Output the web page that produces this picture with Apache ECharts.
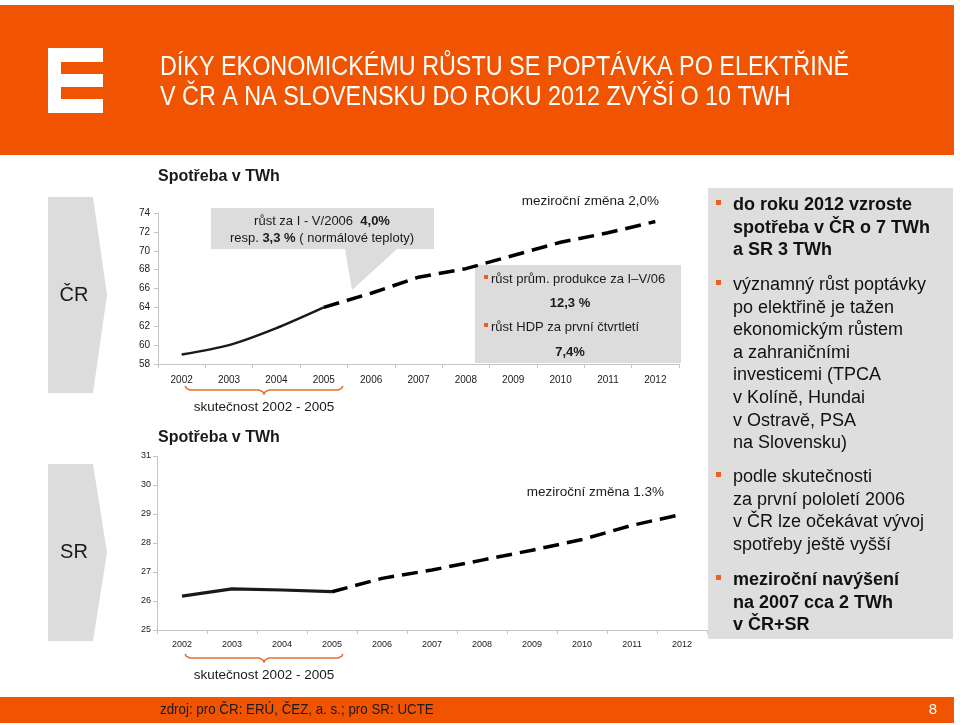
<!DOCTYPE html>
<html>
<head>
<meta charset="utf-8">
<script src="https://cdn.jsdelivr.net/npm/echarts@6/dist/echarts.min.js"></script>
<style>
html,body{margin:0;padding:0;background:#fff;}
#chart{width:960px;height:725px;}
</style>
</head>
<body>
<div id="chart"></div>
<script>
// ---- data ----
const years = ['2002','2003','2004','2005','2006','2007','2008','2009','2010','2011','2012'];
const crActual   = [59.0, 60.0, 61.8, 64.0, null, null, null, null, null, null, null];
const crForecast = [null, null, null, 64.0, 65.5, 67.2, 68.1, 69.5, 70.9, 71.9, 73.1];
const srActual   = [26.17, 26.42, 26.38, 26.32, null, null, null, null, null, null, null];
const srForecast = [null, null, null, 26.32, 26.78, 27.07, 27.41, 27.75, 28.12, 28.61, 28.99];
const crAxis = {min: 58, max: 74, interval: 2};
const srAxis = {min: 25, max: 31, interval: 1};

const titleLines = ['DÍKY EKONOMICKÉMU RŮSTU SE POPTÁVKA PO ELEKTŘINĚ', 'V ČR A NA SLOVENSKU DO ROKU 2012 ZVÝŠÍ O 10 TWH'];
const bulletBlocks = [
  {bold: true,  lines: ['do roku 2012 vzroste', 'spotřeba v ČR o 7 TWh', 'a SR 3 TWh']},
  {bold: false, lines: ['významný růst poptávky', 'po elektřině je tažen', 'ekonomickým růstem', 'a zahraničními', 'investicemi (TPCA', 'v Kolíně, Hundai', 'v Ostravě, PSA', 'na Slovensku)']},
  {bold: false, lines: ['podle skutečnosti', 'za první pololetí 2006', 'v ČR lze očekávat vývoj', 'spotřeby ještě vyšší']},
  {bold: true,  lines: ['meziroční navýšení', 'na 2007 cca 2 TWh', 'v ČR+SR']}
];

const ORANGE = '#f05400';
const GRAY = '#dcdcdc';
const AX = '#c4c4c4';
const SANS = 'Liberation Sans, Arial, sans-serif';

const chart = echarts.init(document.getElementById('chart'), null, {renderer: 'canvas'});

function xAx(gi, fs, margin) {
  return {
    type: 'category', gridIndex: gi, data: years, boundaryGap: true,
    axisLine: {lineStyle: {color: AX, width: 1}},
    axisTick: {show: true, length: 4, lineStyle: {color: AX}},
    axisLabel: {color: '#1a1a1a', fontSize: fs, fontFamily: SANS, margin: margin}
  };
}
function yAx(gi, cfg, fs, margin) {
  return {
    type: 'value', gridIndex: gi, min: cfg.min, max: cfg.max, interval: cfg.interval,
    axisLine: {show: true, lineStyle: {color: AX, width: 1}},
    axisTick: {show: true, length: 4, lineStyle: {color: AX}},
    splitLine: {show: false},
    axisLabel: {color: '#1a1a1a', fontSize: fs, fontFamily: SANS, margin: margin}
  };
}

// graphics
const g = [];
// header
g.push({type: 'rect', shape: {x: 0, y: 5, width: 954, height: 150}, style: {fill: ORANGE}, z: 0});
// logo
g.push({type: 'rect', shape: {x: 48, y: 48, width: 55, height: 65}, style: {fill: '#fff'}, z: 1});
g.push({type: 'rect', shape: {x: 61, y: 62, width: 42, height: 12}, style: {fill: ORANGE}, z: 2});
g.push({type: 'rect', shape: {x: 61, y: 87, width: 42, height: 12}, style: {fill: ORANGE}, z: 2});
titleLines.forEach((t, i) => {
  g.push({type: 'text', x: 160, y: 68 + i * 30, scaleX: 0.865, z: 3,
    style: {text: t, fill: '#fff', font: '27px ' + SANS, textVerticalAlign: 'middle', textAlign: 'left'}});
});
// footer
g.push({type: 'rect', shape: {x: 0, y: 697, width: 954, height: 26}, style: {fill: ORANGE}, z: 0});
g.push({type: 'text', x: 160, y: 710, scaleX: 0.89, z: 3,
  style: {text: 'zdroj: pro ČR: ERÚ, ČEZ, a. s.; pro SR: UCTE', fill: '#1a1a1a', font: '15px ' + SANS, textVerticalAlign: 'middle'}});
g.push({type: 'text', x: 937, y: 710, z: 3,
  style: {text: '8', fill: '#fff', font: '15px ' + SANS, textVerticalAlign: 'middle', textAlign: 'right'}});
// left arrows
function arrow(y0, y1, label) {
  const mid = (y0 + y1) / 2;
  g.push({type: 'polygon', shape: {points: [[48, y0], [93, y0], [107, mid], [93, y1], [48, y1]]}, style: {fill: GRAY}, z: 0});
  g.push({type: 'text', x: 74, y: mid, z: 2,
    style: {text: label, fill: '#1a1a1a', font: '20px ' + SANS, textAlign: 'center', textVerticalAlign: 'middle'}});
}
arrow(197, 393, 'ČR');
arrow(464, 641, 'SR');
// chart titles
g.push({type: 'text', x: 158, y: 177, z: 2, style: {text: 'Spotřeba v TWh', fill: '#1a1a1a', font: 'bold 16px ' + SANS, textVerticalAlign: 'middle'}});
g.push({type: 'text', x: 158, y: 438, z: 2, style: {text: 'Spotřeba v TWh', fill: '#1a1a1a', font: 'bold 16px ' + SANS, textVerticalAlign: 'middle'}});
// callout
g.push({type: 'polygon', shape: {points: [[211, 208], [434, 208], [434, 249], [397, 249], [352, 290], [345, 249], [211, 249]]}, style: {fill: GRAY}, z: 0});
g.push({type: 'text', x: 322, y: 221, z: 2, style: {
  text: '{n|růst za I - V/2006  }{b|4,0%}', textAlign: 'center', textVerticalAlign: 'middle',
  rich: {n: {font: '13px ' + SANS, fill: '#1a1a1a'}, b: {font: 'bold 13px ' + SANS, fill: '#1a1a1a'}}}});
g.push({type: 'text', x: 322, y: 238, z: 2, style: {
  text: '{n|resp. }{b|3,3 %}{n| ( normálové teploty)}', textAlign: 'center', textVerticalAlign: 'middle',
  rich: {n: {font: '13px ' + SANS, fill: '#1a1a1a'}, b: {font: 'bold 13px ' + SANS, fill: '#1a1a1a'}}}});
// meziroční labels
g.push({type: 'text', x: 659, y: 201, z: 2, style: {text: 'meziroční změna 2,0%', fill: '#1a1a1a', font: '13.5px ' + SANS, textAlign: 'right', textVerticalAlign: 'middle'}});
g.push({type: 'text', x: 664, y: 492, z: 2, style: {text: 'meziroční změna 1.3%', fill: '#1a1a1a', font: '13.5px ' + SANS, textAlign: 'right', textVerticalAlign: 'middle'}});
// indicators box
g.push({type: 'rect', shape: {x: 475, y: 265, width: 206, height: 98}, style: {fill: GRAY}, z: 0});
g.push({type: 'rect', shape: {x: 484, y: 275, width: 4, height: 4}, style: {fill: '#e8641e'}, z: 2});
g.push({type: 'text', x: 491, y: 279, z: 2, style: {text: 'růst prům. produkce za I–V/06', fill: '#1a1a1a', font: '13px ' + SANS, textVerticalAlign: 'middle'}});
g.push({type: 'text', x: 570, y: 303, z: 2, style: {text: '12,3 %', fill: '#1a1a1a', font: 'bold 13px ' + SANS, textAlign: 'center', textVerticalAlign: 'middle'}});
g.push({type: 'rect', shape: {x: 484, y: 323, width: 4, height: 4}, style: {fill: '#e8641e'}, z: 2});
g.push({type: 'text', x: 491, y: 327, z: 2, style: {text: 'růst HDP za první čtvrtletí', fill: '#1a1a1a', font: '13px ' + SANS, textVerticalAlign: 'middle'}});
g.push({type: 'text', x: 570, y: 352, z: 2, style: {text: '7,4%', fill: '#1a1a1a', font: 'bold 13px ' + SANS, textAlign: 'center', textVerticalAlign: 'middle'}});
// braces
function brace(yTop) {
  const x0 = 185, x1 = 343, xm = 264, y = yTop + 4;
  g.push({type: 'polyline', z: 2, shape: {points: [
    [x0, yTop], [x0 + 1.5, y - 1.5], [x0 + 5, y], [xm - 5, y], [xm - 1.5, y + 1.5], [xm, y + 4],
    [xm + 1.5, y + 1.5], [xm + 5, y], [x1 - 5, y], [x1 - 1.5, y - 1.5], [x1, yTop]]},
    style: {stroke: '#e2702f', lineWidth: 1.5, fill: null}});
}
brace(386);
brace(654);
g.push({type: 'text', x: 264, y: 407, z: 2, style: {text: 'skutečnost 2002 - 2005', fill: '#1a1a1a', font: '13.5px ' + SANS, textAlign: 'center', textVerticalAlign: 'middle'}});
g.push({type: 'text', x: 264, y: 675, z: 2, style: {text: 'skutečnost 2002 - 2005', fill: '#1a1a1a', font: '13.5px ' + SANS, textAlign: 'center', textVerticalAlign: 'middle'}});
// right box
g.push({type: 'rect', shape: {x: 708, y: 188, width: 245, height: 451}, style: {fill: '#dedede'}, z: 0});
const blockStarts = [205, 285, 477, 580];
bulletBlocks.forEach((b, bi) => {
  const y0 = blockStarts[bi];
  g.push({type: 'rect', shape: {x: 716, y: y0 - 5, width: 5, height: 5}, style: {fill: '#e8641e'}, z: 2});
  b.lines.forEach((ln, li) => {
    g.push({type: 'text', x: 733, y: y0 + li * 22.6, z: 2, style: {text: ln, fill: '#111',
      font: (b.bold ? 'bold ' : '') + '18px ' + SANS, textVerticalAlign: 'middle'}});
  });
});

const option = {
  animation: false,
  backgroundColor: '#fff',
  grid: [
    {left: 158, top: 213, width: 521, height: 151},
    {left: 157, top: 456, width: 550, height: 174}
  ],
  xAxis: [xAx(0, 10, 11), xAx(1, 9, 10)],
  yAxis: [yAx(0, crAxis, 10, 8), yAx(1, srAxis, 9, 6)],
  series: [
    {type: 'line', xAxisIndex: 0, yAxisIndex: 0, data: crActual, smooth: 0.25, showSymbol: false, symbol: 'none',
      lineStyle: {color: '#1a1a1a', width: 2.5}, z: 5},
    {type: 'line', xAxisIndex: 0, yAxisIndex: 0, data: crForecast, showSymbol: false, symbol: 'none',
      lineStyle: {color: '#000', width: 3.5, type: [16, 8]}, z: 5},
    {type: 'line', xAxisIndex: 1, yAxisIndex: 1, data: srActual, showSymbol: false, symbol: 'none',
      lineStyle: {color: '#1a1a1a', width: 3.2}, z: 5},
    {type: 'line', xAxisIndex: 1, yAxisIndex: 1, data: srForecast, showSymbol: false, symbol: 'none',
      lineStyle: {color: '#000', width: 3.5, type: [16, 8]}, z: 5}
  ],
  graphic: {elements: g}
};
chart.setOption(option);
</script>
</body>
</html>
